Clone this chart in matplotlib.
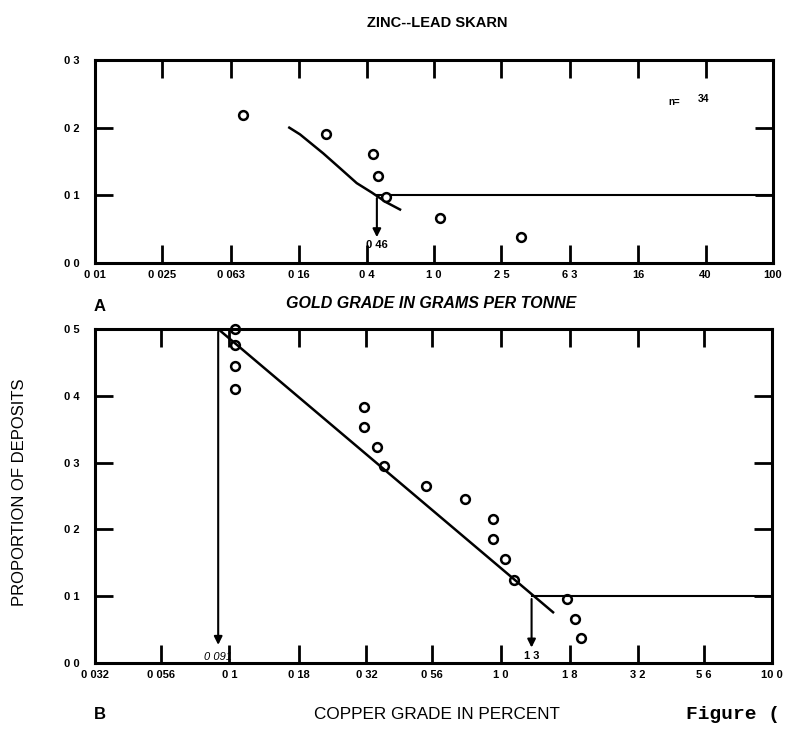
import numpy as np
import matplotlib.pyplot as plt

# gold grade (top panel)
gold_ticks = [0.01, 0.025, 0.063, 0.16, 0.4, 1.0, 2.5, 6.3, 16, 40, 100]
gold_tick_labels = ['0 01', '0 025', '0 063', '0 16', '0 4', '1 0', '2 5', '6 3', '16', '40', '100']
gold_x = [0.075, 0.23, 0.434, 0.469, 0.519, 1.09, 3.26]
gold_y = [0.219, 0.191, 0.161, 0.128, 0.097, 0.067, 0.038]
gold_fit_x = [0.14, 0.162, 0.222, 0.279, 0.35, 0.43, 0.52, 0.63]
gold_fit_y = [0.2, 0.19, 0.162, 0.140, 0.118, 0.104, 0.09, 0.079]
gold_cut = 0.46

# copper grade (bottom panel)
cu_ticks = [0.032, 0.056, 0.1, 0.18, 0.32, 0.56, 1.0, 1.8, 3.2, 5.6, 10.0]
cu_tick_labels = ['0 032', '0 056', '0 1', '0 18', '0 32', '0 56', '1 0', '1 8', '3 2', '5 6', '10 0']
cu_x = [0.105, 0.105, 0.105, 0.105, 0.314, 0.314, 0.35, 0.372, 0.531, 0.741,
        0.935, 0.935, 1.04, 1.117, 1.76, 1.88, 1.97]
cu_y = [0.50, 0.476, 0.444, 0.41, 0.383, 0.354, 0.323, 0.295, 0.265, 0.2455,
        0.2156, 0.185, 0.155, 0.124, 0.096, 0.066, 0.038]
cu_fit_x = [0.091, 1.56]
cu_fit_y = [0.5, 0.076]
cu_cut_low = 0.091
cu_cut_high = 1.3

bold = dict(fontfamily='Liberation Sans', fontweight='bold')


def style_axes(ax, xticks, xlabels, yticks, ylabels):
    ax.set_xscale('log')
    ax.set_xticks(xticks)
    ax.set_xticklabels(xlabels, **bold, fontsize=8)
    ax.minorticks_off()
    ax.set_yticks(yticks)
    ax.set_yticklabels(ylabels, **bold, fontsize=8)
    ax.tick_params(direction='in', length=13, width=2, top=True, right=True,
                   labeltop=False, labelright=False)
    ax.tick_params(axis='x', pad=5)
    ax.tick_params(axis='y', pad=11)
    for s in ax.spines.values():
        s.set_linewidth(2.2)


fig = plt.figure(figsize=(7.86, 7.34), dpi=100)

# top panel
ax1 = fig.add_axes([0.1209, 0.6417, 0.8626, 0.2766])
ax1.plot(gold_fit_x, gold_fit_y, color='black', lw=1.8)
ax1.plot([gold_cut, 100], [0.1, 0.1], color='black', lw=1.5)
ax1.plot(gold_x, gold_y, 'o', mfc='white', mec='black', ms=6.3, mew=1.8)
ax1.annotate('', xy=(gold_cut, 0.034), xytext=(gold_cut, 0.1),
             arrowprops=dict(arrowstyle='-|>', color='black', lw=1.5, mutation_scale=12))
ax1.text(gold_cut, 0.027, '0 46', ha='center', va='center', fontsize=8, **bold)
ax1.text(24, 0.233, 'n=', fontsize=7, **bold)
ax1.text(36, 0.238, '34', fontsize=7.5, **bold)
ax1.set_xlim(0.01, 100)
ax1.set_ylim(0, 0.3)
style_axes(ax1, gold_ticks, gold_tick_labels, [0, 0.1, 0.2, 0.3], ['0 0', '0 1', '0 2', '0 3'])

# bottom panel
ax2 = fig.add_axes([0.1209, 0.0967, 0.8613, 0.4550])
ax2.plot(cu_fit_x, cu_fit_y, color='black', lw=1.8)
ax2.plot([cu_cut_high, 10], [0.1, 0.1], color='black', lw=1.5)
ax2.plot(cu_x, cu_y, 'o', mfc='none', mec='black', ms=6.3, mew=1.8, clip_on=False)
ax2.annotate('', xy=(cu_cut_low, 0.023), xytext=(cu_cut_low, 0.5),
             arrowprops=dict(arrowstyle='-|>', color='black', lw=1.5, mutation_scale=12))
ax2.annotate('', xy=(cu_cut_high, 0.019), xytext=(cu_cut_high, 0.1),
             arrowprops=dict(arrowstyle='-|>', color='black', lw=1.5, mutation_scale=12))
ax2.text(cu_cut_low, 0.009, '0 091', ha='center', va='center', fontsize=8,
         fontfamily='Liberation Sans', style='italic')
ax2.text(cu_cut_high, 0.01, '1 3', ha='center', va='center', fontsize=8, **bold)
ax2.set_xlim(0.032, 10)
ax2.set_ylim(0, 0.5)
style_axes(ax2, cu_ticks, cu_tick_labels, [0, 0.1, 0.2, 0.3, 0.4, 0.5],
           ['0 0', '0 1', '0 2', '0 3', '0 4', '0 5'])

# labels
fig.text(0.556, 0.969, 'ZINC--LEAD SKARN', ha='center', va='center', fontsize=10.5, **bold)
fig.text(0.548, 0.587, 'GOLD GRADE IN GRAMS PER TONNE', ha='center', va='center',
         fontsize=11.5, style='italic', **bold)
fig.text(0.127, 0.582, 'A', ha='center', va='center', fontsize=12, **bold)
fig.text(0.025, 0.330, 'PROPORTION OF DEPOSITS', ha='center', va='center', rotation=90,
         fontsize=12, fontfamily='Liberation Sans')
fig.text(0.127, 0.026, 'B', ha='center', va='center', fontsize=12, **bold)
fig.text(0.556, 0.026, 'COPPER GRADE IN PERCENT', ha='center', va='center',
         fontsize=12.3, fontfamily='Liberation Sans')
fig.text(0.873, 0.026, 'Figure (', ha='left', va='center', fontsize=14,
         fontfamily='Liberation Mono', fontweight='bold')

plt.savefig('out.png', dpi=100)
